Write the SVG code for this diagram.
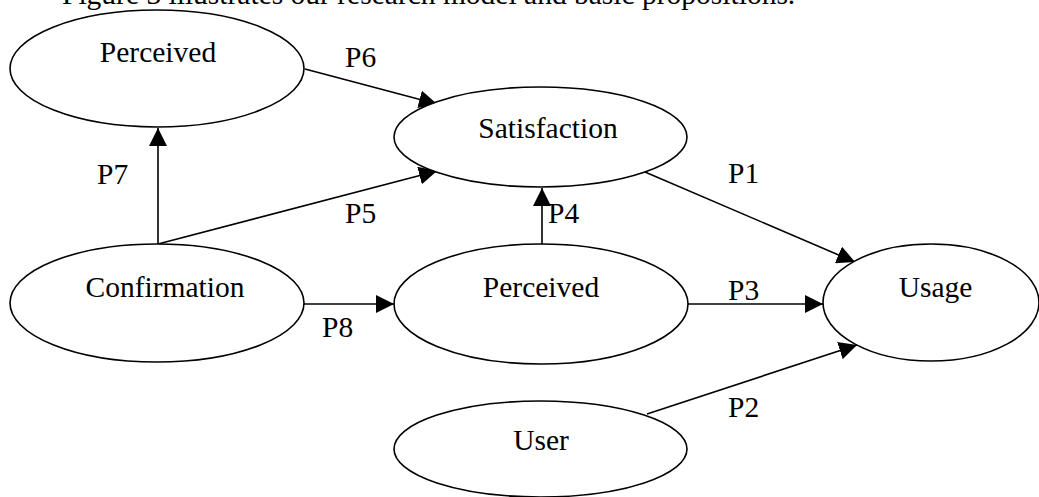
<svg xmlns="http://www.w3.org/2000/svg" width="1039" height="497" viewBox="0 0 1039 497">
<style>
.n{fill:#fff;stroke:#000;stroke-width:1.6}
.t{font-family:"Liberation Serif","Times New Roman",serif;font-size:29.5px;fill:#000}
.m{text-anchor:middle}
.c{stroke:#000;stroke-width:1.6;fill:none;marker-end:url(#ah)}
</style>
<defs>
<marker id="ah" viewBox="0 0 18 18" refX="18" refY="9" markerWidth="18" markerHeight="18" markerUnits="userSpaceOnUse" orient="auto">
<path d="M0,0 L18,9 L0,18 z" fill="#000"/>
</marker>
</defs>
<rect width="1039" height="497" fill="#fff"/>
<text class="t" x="62" y="3.5">Figure 3 illustrates our research model and basic propositions.</text>
<g id="connectors">
<line class="c" x1="305" y1="69" x2="437" y2="104"/>
<line class="c" x1="158" y1="244" x2="437" y2="171"/>
<line class="c" x1="158" y1="244" x2="158" y2="128"/>
<line class="c" x1="542" y1="244" x2="542" y2="188"/>
<line class="c" x1="304" y1="304" x2="394" y2="304"/>
<line class="c" x1="688" y1="304" x2="823" y2="304"/>
<line class="c" x1="645" y1="172" x2="855" y2="262"/>
<line class="c" x1="647" y1="414" x2="857" y2="345"/>
<text class="t" x="345" y="67">P6</text>
<text class="t" x="97" y="184">P7</text>
<text class="t" x="345" y="223">P5</text>
<text class="t" x="548" y="223">P4</text>
<text class="t" x="322" y="337">P8</text>
<text class="t" x="728" y="300">P3</text>
<text class="t" x="728" y="183">P1</text>
<text class="t" x="728" y="417">P2</text>
</g>
<g id="perceived-top">
<ellipse class="n" cx="157" cy="68.5" rx="147" ry="58.5"/>
<text class="t m" x="158" y="62">Perceived</text>
</g>
<g id="satisfaction">
<ellipse class="n" cx="540.5" cy="137" rx="146.5" ry="50"/>
<text class="t m" x="548" y="138">Satisfaction</text>
</g>
<g id="confirmation">
<ellipse class="n" cx="157" cy="303" rx="147" ry="59"/>
<text class="t m" x="165" y="297">Confirmation</text>
</g>
<g id="perceived-mid">
<ellipse class="n" cx="541" cy="304" rx="147" ry="60"/>
<text class="t m" x="541" y="297">Perceived</text>
</g>
<g id="usage">
<ellipse class="n" cx="931" cy="302.5" rx="108" ry="58.5"/>
<text class="t m" x="935.5" y="297">Usage</text>
</g>
<g id="user">
<ellipse class="n" cx="540.5" cy="449" rx="146.5" ry="48"/>
<text class="t m" x="541" y="450">User</text>
</g>
</svg>
